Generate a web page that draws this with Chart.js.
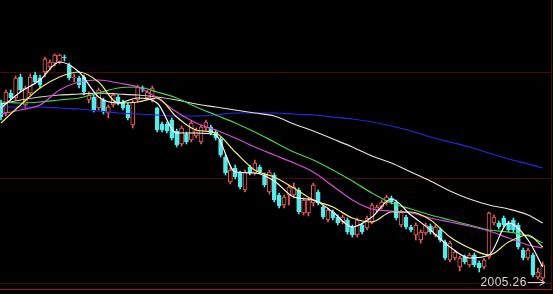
<!DOCTYPE html>
<html>
<head>
<meta charset="utf-8">
<script src="https://cdn.jsdelivr.net/npm/chart.js@4.4.1/dist/chart.umd.min.js"></script>
<style>
  html, body { margin: 0; padding: 0; background: #000; }
  #wrap { width: 553px; height: 294px; }
</style>
</head>
<body>
<div id="wrap"><canvas id="myChart" width="553" height="294"></canvas></div>
<script>
// daily candles (oldest first)
const opens = [2360,2340,2380,2370,2412,2356,2380,2416,2410,2422,2432,2440,2442,2452,2436,2410,2410,2412,2366,2372,
  2350,2366,2340,2356,2372,2362,2356,2316,2366,2390,2370,2366,2350,2318,2318,2326,2304,2278,2298,2286,
  2294,2282,2310,2312,2302,2288,2252,2202,2230,2220,2186,2232,2220,2232,2216,2182,2216,2176,2156,2176,
  2176,2186,2140,2140,2160,2182,2152,2126,2142,2132,2122,2126,2112,2096,2116,2110,2122,2146,2152,2160,
  2170,2162,2116,2132,2112,2096,2086,2100,2114,2096,2106,2082,2046,2050,2032,2052,2036,2056,2040,2032,
  2052,2120,2120,2130,2120,2126,2116,2066,2050,2056,2012,2010];
const highs = [2366,2386,2386,2414,2418,2394,2418,2422,2416,2452,2446,2458,2458,2456,2440,2418,2414,2416,2382,2376,
  2390,2370,2356,2380,2376,2366,2360,2366,2396,2394,2386,2394,2352,2322,2322,2330,2308,2314,2302,2324,
  2310,2316,2326,2316,2306,2292,2256,2230,2236,2224,2226,2236,2246,2236,2220,2226,2220,2180,2176,2196,
  2200,2190,2170,2170,2200,2186,2156,2150,2146,2136,2136,2130,2116,2130,2120,2134,2160,2156,2166,2176,
  2174,2166,2146,2136,2116,2120,2106,2120,2118,2116,2110,2086,2084,2066,2054,2056,2060,2060,2044,2050,
  2142,2136,2124,2134,2124,2130,2120,2070,2070,2060,2030,2042];
const lows = [2326,2334,2366,2366,2382,2350,2376,2398,2390,2412,2426,2434,2438,2444,2406,2402,2390,2376,2360,2342,
  2346,2338,2330,2352,2356,2346,2326,2310,2362,2382,2366,2362,2302,2302,2300,2286,2272,2274,2278,2282,
  2290,2278,2306,2296,2286,2252,2216,2198,2208,2188,2182,2216,2216,2218,2192,2178,2162,2150,2150,2156,
  2170,2138,2136,2134,2154,2156,2128,2122,2126,2116,2118,2098,2092,2092,2098,2106,2118,2142,2148,2156,
  2158,2126,2112,2108,2102,2086,2080,2096,2098,2092,2082,2046,2042,2046,2024,2038,2032,2032,2022,2028,
  2048,2116,2108,2112,2102,2102,2068,2046,2046,2012,2008,2005.26];
const closes = [2332,2382,2370,2410,2386,2390,2412,2402,2396,2448,2442,2456,2456,2450,2410,2412,2396,2382,2376,2346,
  2386,2342,2352,2376,2360,2350,2330,2362,2392,2388,2382,2390,2306,2306,2304,2290,2276,2310,2282,2320,
  2306,2312,2322,2300,2290,2256,2220,2226,2212,2192,2222,2220,2240,2222,2196,2222,2166,2154,2172,2192,
  2192,2142,2166,2166,2196,2160,2132,2146,2130,2120,2132,2102,2096,2126,2102,2130,2156,2152,2162,2172,
  2162,2130,2142,2112,2106,2116,2102,2116,2102,2112,2086,2050,2080,2062,2050,2042,2056,2036,2030,2046,
  2140,2132,2112,2116,2106,2106,2072,2050,2066,2016,2022,2036];

// moving averages, read at every 4th session
const maIdx = [0,4,8,12,16,20,24,28,32,36,40,44,48,52,56,60,64,68,72,76,80,84,88,92,96,100,104,108,111];
const ma5 = [2350,2382,2406,2442,2422,2372,2360,2370,2360,2300,2300,2296,2222,2220,2204,2172,2166,2142,2112,2132,
  2168,2136,2106,2072,2050,2056,2120,2086,2032];
const ma10 = [2320,2356,2390,2412,2422,2402,2360,2362,2370,2332,2306,2300,2262,2226,2212,2190,2166,2152,2130,2122,
  2142,2142,2126,2092,2070,2056,2082,2096,2072];
const ma20 = [2338,2346,2356,2386,2402,2406,2400,2392,2370,2342,2320,2306,2290,2272,2256,2240,2222,2194,2166,2148,
  2144,2140,2130,2122,2114,2104,2090,2076,2070];
const ma30 = [2362,2360,2362,2366,2370,2380,2390,2392,2382,2370,2352,2336,2320,2302,2282,2262,2246,2226,2204,2180,
  2160,2148,2136,2126,2116,2106,2102,2094,2080];
const ma60 = [2358,2366,2372,2376,2378,2380,2378,2376,2372,2366,2358,2352,2346,2340,2334,2318,2304,2288,2272,2254,
  2240,2222,2204,2184,2168,2156,2148,2136,2120];
const ma120 = [2352,2352,2352,2350,2348,2344,2340,2338,2336,2334,2334,2336,2340,2340,2340,2338,2336,2332,2328,2322,
  2314,2304,2292,2282,2272,2260,2248,2238,2230];

const gridValues = [2000, 2210, 2422];
const lowLabel = '2005.26';

const upColor = '#ec5c5c';
const downColor = '#56eaea';

const isUp = opens.map((o, i) => closes[i] >= o);
const candleColor = isUp.map(u => u ? upColor : downColor);

function maLine(values, color) {
  return {
    type: 'line',
    data: maIdx.map((d, i) => ({ x: d, y: values[i] })),
    borderColor: color,
    borderWidth: 1.2,
    pointRadius: 0,
    cubicInterpolationMode: 'monotone',
    order: 0
  };
}

const gridPlugin = {
  id: 'gridPlugin',
  beforeDatasetsDraw(chart) {
    const { ctx, chartArea: a, scales: { y } } = chart;
    ctx.save();
    ctx.lineWidth = 1;
    ctx.strokeStyle = '#4a0a0a';
    gridValues.forEach(v => {
      const py = Math.round(y.getPixelForValue(v)) + 0.5;
      ctx.beginPath();
      ctx.moveTo(a.left, py);
      ctx.lineTo(a.right, py);
      ctx.stroke();
    });
    // right border
    ctx.beginPath();
    ctx.moveTo(a.right + 0.5, 0);
    ctx.lineTo(a.right + 0.5, a.bottom);
    ctx.stroke();
    // bottom border
    ctx.strokeStyle = '#a8181c';
    ctx.beginPath();
    ctx.moveTo(a.left, a.bottom + 0.5);
    ctx.lineTo(a.right + 1, a.bottom + 0.5);
    ctx.stroke();
    ctx.restore();
  }
};

const lowPlugin = {
  id: 'lowPlugin',
  afterDatasetsDraw(chart) {
    const { ctx, scales: { x, y } } = chart;
    const i = lows.indexOf(Math.min(...lows));
    const tipX = x.getPixelForValue(i) + 2;
    const py = Math.round(y.getPixelForValue(lows[i])) + 2.5;
    ctx.save();
    ctx.strokeStyle = '#d8d8d8';
    ctx.fillStyle = '#d8d8d8';
    ctx.lineWidth = 1;
    ctx.beginPath();
    ctx.moveTo(tipX - 17, py);
    ctx.lineTo(tipX, py);
    ctx.moveTo(tipX - 5, py - 3);
    ctx.lineTo(tipX, py);
    ctx.lineTo(tipX - 5, py + 3);
    ctx.stroke();
    ctx.font = '12px "Liberation Sans", Arial, sans-serif';
    ctx.letterSpacing = '0.4px';
    ctx.textAlign = 'right';
    ctx.textBaseline = 'middle';
    ctx.fillText(lowLabel, tipX - 18, py);
    ctx.restore();
  }
};

var ctx = document.getElementById('myChart').getContext('2d');
var myChart = new Chart(ctx, {
  type: 'bar',
  data: {
    datasets: [
      maLine(ma5, '#ffffff'),
      maLine(ma10, '#f2f07a'),
      maLine(ma20, '#d84cd8'),
      maLine(ma30, '#4cd04c'),
      maLine(ma60, '#eadce0'),
      maLine(ma120, '#2828e8'),
      {
        // bodies
        data: opens.map((o, i) => ({ x: i, y: [o, closes[i]] })),
        backgroundColor: isUp.map(u => u ? '#000000' : downColor),
        borderColor: candleColor,
        borderWidth: 1,
        borderSkipped: false,
        barThickness: 4,
        grouped: false,
        order: 1
      },
      {
        // wicks
        data: lows.map((l, i) => ({ x: i, y: [l, highs[i]] })),
        backgroundColor: candleColor,
        borderWidth: 0,
        barThickness: 1,
        grouped: false,
        order: 2
      }
    ]
  },
  options: {
    responsive: false,
    animation: false,
    layout: { padding: { left: 0, top: 0, right: 2, bottom: 5 } },
    plugins: { legend: { display: false }, tooltip: { enabled: false } },
    scales: {
      x: { type: 'linear', display: false, min: -0.2, max: 112.7, offset: false },
      y: { display: false, min: 1988, max: 2566 }
    }
  },
  plugins: [gridPlugin, lowPlugin]
});
</script>
</body>
</html>
